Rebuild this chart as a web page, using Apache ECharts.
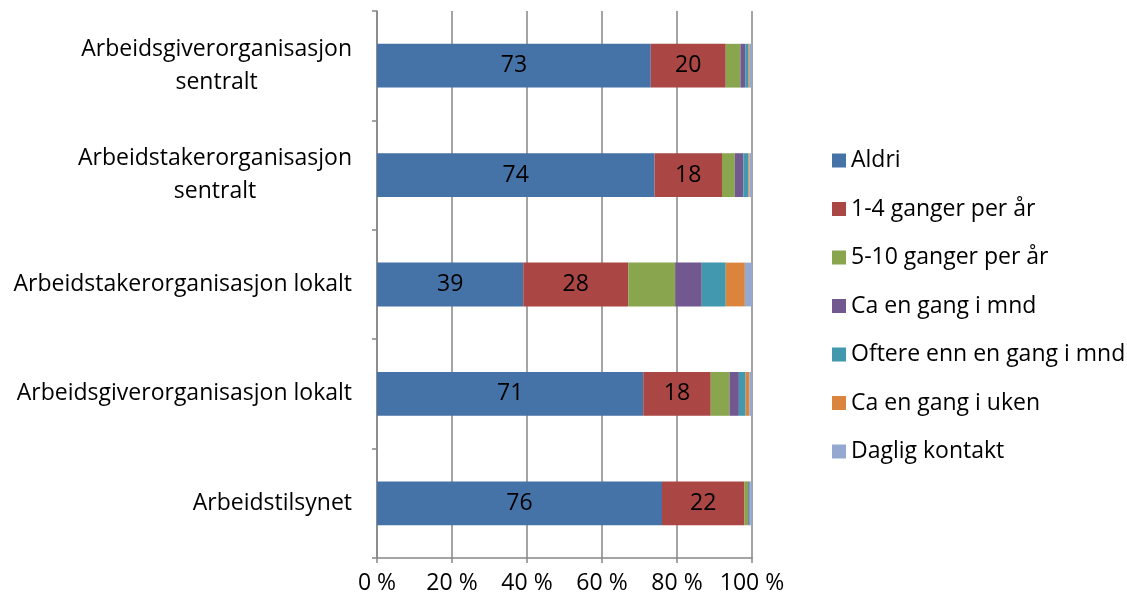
<!DOCTYPE html>
<html>
<head>
<meta charset="utf-8">
<script src="https://cdn.jsdelivr.net/npm/echarts@6/dist/echarts.min.js"></script>
<style>
  html, body { margin: 0; padding: 0; background: #fff; }
  #chart { width: 1127px; height: 604px; }
</style>
</head>
<body>
<div id="chart"></div>
<script>
// Contact frequency with each body, share of respondents (%), listed top to bottom
const categories = [
  'Arbeidsgiverorganisasjon\nsentralt',
  'Arbeidstakerorganisasjon\nsentralt',
  'Arbeidstakerorganisasjon lokalt',
  'Arbeidsgiverorganisasjon lokalt',
  'Arbeidstilsynet'
];
const seriesNames = [
  'Aldri',
  '1-4 ganger per år',
  '5-10 ganger per år',
  'Ca en gang i mnd',
  'Oftere enn en gang i mnd',
  'Ca en gang i uken',
  'Daglig kontakt'
];
const aldri        = [73, 74, 39, 71, 76];
const ganger1til4  = [20, 18, 28, 18, 22];
const ganger5til10 = [3.9, 3.4, 12.5, 5.0, 1.0];
const enGangMnd    = [1.3, 2.3, 7.1, 2.5, 0.3];
const oftereMnd    = [0.9, 1.3, 6.4, 1.8, 0.2];
const enGangUken   = [0.3, 0.3, 5.1, 1.0, 0.0];
const daglig       = [0.6, 0.7, 1.9, 0.7, 0.5];
const xTicks = [0, 20, 40, 60, 80, 100];

const values = [aldri, ganger1til4, ganger5til10, enGangMnd, oftereMnd, enGangUken, daglig];
const colors = ['#4572A7', '#AA4643', '#89A54E', '#71588F', '#4198AF', '#DB843D', '#93A9CF'];
const labelled = [true, true, false, false, false, false, false];

const FONT = 'Open Sans';
const FS = 23;
const axisGray = '#868686';

const chart = echarts.init(document.getElementById('chart'), null, { renderer: 'canvas' });

chart.setOption({
  animation: false,
  textStyle: { fontFamily: FONT },
  grid: { left: 377, right: 375, top: 11, bottom: 46, containLabel: false },
  legend: {
    orient: 'vertical',
    left: 827,
    top: 144,
    icon: 'rect',
    itemWidth: 14,
    itemHeight: 14,
    itemGap: 25.5,
    textStyle: { fontFamily: FONT, fontSize: FS, color: '#000', lineHeight: 23 },
    data: seriesNames
  },
  xAxis: {
    type: 'value',
    min: xTicks[0],
    max: xTicks[xTicks.length - 1],
    interval: xTicks[1] - xTicks[0],
    axisLine: { show: true, lineStyle: { color: axisGray, width: 1.5 } },
    axisTick: { show: true, length: 5, lineStyle: { color: axisGray, width: 1.5 } },
    splitLine: { show: true, lineStyle: { color: axisGray, width: 1.5 } },
    axisLabel: {
      margin: 14,
      fontFamily: FONT,
      fontSize: FS,
      color: '#000',
      formatter: v => v + ' %'
    }
  },
  yAxis: {
    type: 'category',
    inverse: true,
    data: categories,
    axisLine: { show: true, lineStyle: { color: axisGray, width: 1.5 } },
    axisTick: { show: true, length: 5, alignWithLabel: false, lineStyle: { color: axisGray, width: 1.5 } },
    axisLabel: {
      margin: 25,
      fontFamily: FONT,
      fontSize: FS,
      color: '#000',
      lineHeight: 33,
      formatter: v => v.split('\n').map(line => '{c|' + line + '}').join('\n'),
      rich: {
        c: { align: 'center', fontFamily: FONT, fontSize: FS, color: '#000', lineHeight: 33 }
      }
    }
  },
  series: seriesNames.map((name, i) => ({
    name: name,
    type: 'bar',
    stack: 'total',
    barCategoryGap: '60%',
    itemStyle: { color: colors[i] },
    label: {
      show: labelled[i],
      position: 'inside',
      color: '#000',
      fontFamily: FONT,
      fontSize: FS,
      formatter: p => Math.round(p.value)
    },
    emphasis: { disabled: true },
    data: values[i]
  }))
});
</script>
</body>
</html>
